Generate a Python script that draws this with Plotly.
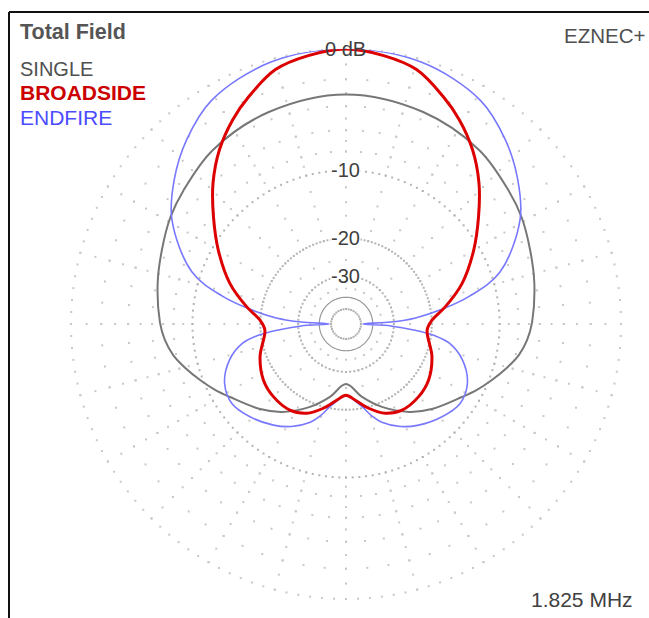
import numpy as np
import plotly.graph_objects as go

W, H = 649, 618
CX, CY, R = 346, 324, 275

# elevation angle (deg, 0 = right, 90 = up) and field (dB) -- right half, mirrored for the left half
SINGLE_ANG = [-90, -77.6, -66.5, -54.3, -44.7, -32.2, -26.7, -21, -15.3, -10.2, -5, 0.6, 12.3, 21.9, 31.3, 39.4, 52.6, 70, 90]
SINGLE_DB = [-26.1, -22.4, -19.1, -16.0, -14.1, -11.95, -10.8, -9.7, -8.6, -7.7, -7.1, -6.7, -6.1, -5.6, -5.0, -4.6, -3.9, -3.4, -3.1]

BROAD_ANG = [-90, -83, -74.9, -66.2, -56.9, -45, -34.1, -20.8, -4.2, 2.7, 9.9, 19.3, 30, 39, 46.7, 54, 61, 67, 74.5, 82, 90]
BROAD_DB = [-23.2, -21.9, -19.7, -17.8, -16.9, -16.9, -17.4, -18.8, -20.9, -19.9, -17.2, -13.8, -10.7, -8.2, -6.0, -4.2, -2.8, -1.8, -0.7, -0.25, 0.0]

END_ANG = [-90, -87.6, -79, -74.2, -70, -62, -54.3, -44, -35, -26, -17, -10.5, -7.5, -5, -2.5, 0, 2.5, 5, 8.7, 12.7, 18.7, 31, 40, 49, 59, 74, 90]
END_DB = [-23.0, -22.8, -20.3, -18.1, -16.6, -14.8, -13.6, -12.4, -11.7, -12.2, -14.0, -16.5, -19.2, -24.0, -31.1, -47.8, -31.1, -23.5, -17.9, -13.3, -9.0, -5.2, -3.5, -2.1, -0.9, -0.16, 0.0]

SERIES = [
    ("SINGLE", SINGLE_ANG, SINGLE_DB, "#777777", 2),
    ("ENDFIRE", END_ANG, END_DB, "#7878ff", 1.6),
    ("BROADSIDE", BROAD_ANG, BROAD_DB, "#dd0000", 3),
]

RING_DB = [0, -2, -4, -6, -8]
RING_STEP = [2.5, 5, 5, 5, 5]
INNER_RING_DB = [-10, -20, -30]
INNER_RING_STEP = [2.5, 2.5, 5]
SPOKE_DB = list(range(0, -11, -1)) + list(range(-12, -21, -2)) + [-25, -30, -35]
SCALE_LABELS = ["0 dB", "-10", "-20", "-30"]
SCALE_DB = [0, -10, -20, -30]


def arrl(db):
    # ARRL log scale: radius shrinks by 0.89 for every 2 dB
    return 0.89 ** (-np.asarray(db, dtype=float) / 2)


def mirror(ang, db):
    theta = list(ang) + [180 - a for a in reversed(ang[:-1])]
    vals = list(db) + list(reversed(db[:-1]))
    return theta, vals


def ring_points(levels, steps):
    rr, tt = [], []
    for level, step in zip(levels, steps):
        t = np.arange(0, 360, step)
        tt += list(t)
        rr += [float(arrl(level))] * len(t)
    return rr, tt


fig = go.Figure()

# grid dots
grid_r, grid_t = ring_points(RING_DB, RING_STEP)
for a in range(0, 360, 15):
    for level in SPOKE_DB:
        grid_t.append(a)
        grid_r.append(float(arrl(level)))
fig.add_trace(go.Scatterpolar(
    r=grid_r, theta=grid_t, mode="markers",
    marker=dict(symbol="square", size=2, color="#c8c8c8"),
    hoverinfo="skip", showlegend=False,
))
in_r, in_t = ring_points(INNER_RING_DB, INNER_RING_STEP)
fig.add_trace(go.Scatterpolar(
    r=in_r, theta=in_t, mode="markers",
    marker=dict(symbol="square", size=2, color="#b4b4b4"),
    hoverinfo="skip", showlegend=False,
))
ring40 = np.arange(0, 361, 2)
fig.add_trace(go.Scatterpolar(
    r=[float(arrl(-40))] * len(ring40), theta=ring40, mode="lines",
    line=dict(color="#999999", width=1.2), hoverinfo="skip", showlegend=False,
))
ring50 = np.arange(0, 360, 10)
fig.add_trace(go.Scatterpolar(
    r=[float(arrl(-50))] * len(ring50), theta=ring50, mode="markers",
    marker=dict(symbol="square", size=2, color="#b0b0b0"), hoverinfo="skip", showlegend=False,
))

for name, ang, db, color, width in SERIES:
    theta, vals = mirror(ang, db)
    fig.add_trace(go.Scatterpolar(
        r=arrl(vals), theta=theta, mode="lines", name=name,
        line=dict(color=color, width=width, shape="spline", smoothing=1.0),
        showlegend=False,
    ))

font = "Liberation Sans, Arial, sans-serif"


def px(x):
    return x / W


def py(y):
    return 1 - y / H


annotations = []
for label, level in zip(SCALE_LABELS, SCALE_DB):
    y = CY - R * float(arrl(level))
    annotations.append(dict(
        x=px(CX - 1), y=py(y), xref="paper", yref="paper", text=label, showarrow=False,
        font=dict(family=font, size=20, color="#404040"),
        bgcolor=None if level == 0 else "white", borderpad=0,
        xanchor="center", yanchor="middle",
    ))

left_texts = [
    ("<b>Total Field</b>", 32, "#555555", 21.5),
    ("SINGLE", 69, "#505050", 20),
    ("<b>BROADSIDE</b>", 93, "#cc0000", 21),
    ("ENDFIRE", 117.5, "#4c4cff", 21),
]
for text, y, color, size in left_texts:
    annotations.append(dict(
        x=px(18), y=py(y), xref="paper", yref="paper", text=text, showarrow=False,
        font=dict(family=font, size=size, color=color), xanchor="left", yanchor="middle",
    ))
annotations.append(dict(
    x=px(647), y=py(36), xref="paper", yref="paper", text="EZNEC+", showarrow=False,
    font=dict(family=font, size=20.5, color="#505050"), xanchor="right", yanchor="middle",
))
annotations.append(dict(
    x=px(635), y=py(599), xref="paper", yref="paper", text="1.825 MHz", showarrow=False,
    font=dict(family=font, size=21, color="#404040"), xanchor="right", yanchor="middle",
))

fig.update_layout(
    width=W, height=H,
    margin=dict(l=0, r=0, t=0, b=0),
    paper_bgcolor="white",
    plot_bgcolor="white",
    showlegend=False,
    polar=dict(
        domain=dict(x=[(CX - R) / W, (CX + R) / W], y=[(H - CY - R) / H, (H - CY + R) / H]),
        bgcolor="white",
        radialaxis=dict(range=[0, 1], visible=False, showgrid=False),
        angularaxis=dict(rotation=0, direction="counterclockwise", visible=False, showgrid=False),
    ),
    annotations=annotations,
    shapes=[
        dict(type="line", xref="paper", yref="paper", x0=px(9), x1=1, y0=py(12), y1=py(12),
             line=dict(color="#111111", width=2)),
        dict(type="line", xref="paper", yref="paper", x0=px(9), x1=px(9), y0=py(12), y1=0,
             line=dict(color="#111111", width=2)),
    ],
)

fig.write_html(
    "out.html",
    config={"displayModeBar": False},
    post_script="document.body.style.margin='0px';document.body.style.overflow='hidden';",
)
